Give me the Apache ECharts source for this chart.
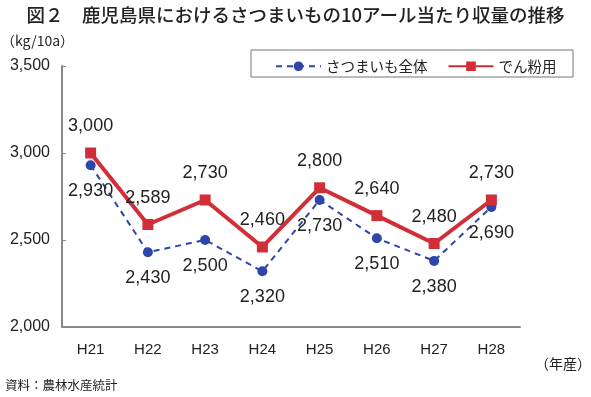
<!DOCTYPE html>
<html><head><meta charset="utf-8">
<script src="https://cdn.jsdelivr.net/npm/echarts@6/dist/echarts.min.js"></script>
<style>html,body{margin:0;padding:0;background:#fff}#c{width:591px;height:397px}</style>
</head><body><div id="c"></div>
<script>
const categories = ['H21','H22','H23','H24','H25','H26','H27','H28'];
const allSweetPotato = [2930, 2430, 2500, 2320, 2730, 2510, 2380, 2690];
const starchUse = [3000, 2589, 2730, 2460, 2800, 2640, 2480, 2730];
const seriesNames = ['さつまいも全体', 'でん粉用'];
const yTicks = [2000, 2500, 3000, 3500];

const chart = echarts.init(document.getElementById('c'));
const numFont = 'Liberation Sans, Arial, sans-serif';
const jpFont = '"Noto Sans CJK JP", sans-serif';
const fmt = v => v.toLocaleString('en-US');
chart.setOption({
  animation: false,
  backgroundColor: '#fff',
  title: {
    text: '図２　鹿児島県におけるさつまいもの10アール当たり収量の推移',
    left: 'center', top: 1,
    textStyle: {fontFamily: jpFont, fontSize: 18.5, fontWeight: 500, color: '#222'}
  },
  graphic: [
    {type: 'text', left: 1, top: 34, style: {text: '（kg/10a）', font: '14px ' + jpFont, fill: '#222'}},
    {type: 'text', right: 0, top: 357, style: {text: '（年産）', font: '14px ' + jpFont, fill: '#222'}},
    {type: 'text', left: 5, top: 379, style: {text: '資料：農林水産統計', font: '12.5px ' + jpFont, fill: '#222'}},
    {type: 'rect', shape: {x: 251, y: 50, width: 322, height: 27}, style: {fill: 'none', stroke: '#777', lineWidth: 1}}
  ],
  legend: {
    left: 270, top: 54, itemGap: 20, itemWidth: 45, itemHeight: 12,
    textStyle: {fontFamily: jpFont, fontSize: 14.5, color: '#222'},
    data: seriesNames
  },
  grid: {left: 62, right: 71, top: 66, bottom: 70},
  xAxis: {
    type: 'category', data: categories, boundaryGap: true,
    axisLine: {lineStyle: {color: '#888', width: 2}},
    axisTick: {inside: true, length: 5, lineStyle: {color: '#888', width: 1}},
    axisLabel: {fontFamily: numFont, fontSize: 15, color: '#222', margin: 15}
  },
  yAxis: {
    type: 'value', min: yTicks[0], max: yTicks[yTicks.length - 1], interval: 500,
    axisLine: {show: true, lineStyle: {color: '#888', width: 2}},
    axisTick: {show: true, inside: true, length: 4, lineStyle: {color: '#888'}},
    splitLine: {show: false},
    axisLabel: {fontFamily: numFont, fontSize: 16, color: '#222', margin: 12, formatter: v => fmt(v)}
  },
  series: [
    {
      name: seriesNames[0], type: 'line', data: allSweetPotato, z: 3,
      symbol: 'circle', symbolSize: 10,
      itemStyle: {color: '#2E45AA'},
      lineStyle: {color: '#2E45AA', width: 2, type: [6, 5]},
      label: {show: true, position: 'bottom', distance: 12, fontFamily: numFont, fontSize: 18, color: '#222', formatter: p => fmt(p.value)}
    },
    {
      name: seriesNames[1], type: 'line', data: starchUse, z: 4,
      symbol: 'rect', symbolSize: 11,
      itemStyle: {color: '#D12E38'},
      lineStyle: {color: '#D12E38', width: 4},
      label: {show: true, position: 'top', distance: 12, fontFamily: numFont, fontSize: 18, color: '#222', formatter: p => fmt(p.value)}
    }
  ]
});
</script></body></html>
